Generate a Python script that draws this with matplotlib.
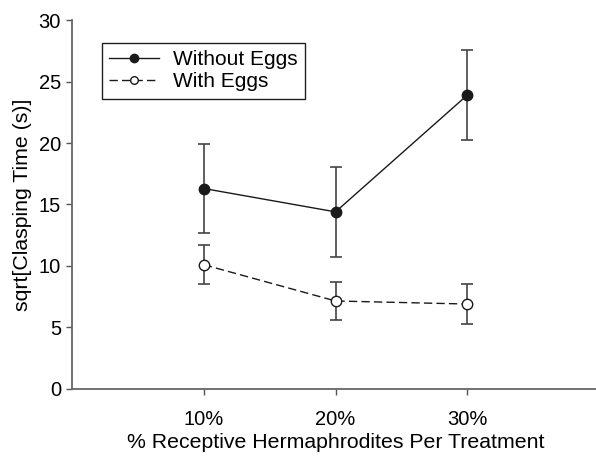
import matplotlib
matplotlib.use("Agg")
import matplotlib.pyplot as plt
from matplotlib.lines import Line2D

plt.rcParams['font.family'] = ['Liberation Sans', 'DejaVu Sans']

# Dados
categorias = ["10%", "20%", "30%"]
sem_ovos = [16.3, 14.4, 23.9]
sem_ovos_erro = [3.65, 3.65, 3.65]
com_ovos = [10.1, 7.15, 6.9]
com_ovos_erro = [1.6, 1.55, 1.6]

x = list(range(1, len(categorias) + 1))

fig = plt.figure(figsize=(5.96, 4.58), dpi=100)
ax = fig.add_axes([0.121, 0.151, 0.884, 0.805])

ax.errorbar(x, sem_ovos, yerr=sem_ovos_erro, color="#1a1a1a", ecolor="#444444",
            marker="o", markersize=7.5, markerfacecolor="#1a1a1a", markeredgecolor="#1a1a1a",
            linewidth=1.0, elinewidth=1.2, capsize=4, capthick=1.2)
ax.errorbar(x, com_ovos, yerr=com_ovos_erro, color="#1a1a1a", ecolor="#444444",
            marker="o", markersize=7.5, markerfacecolor="white", markeredgecolor="#1a1a1a",
            linewidth=1.0, linestyle=(0, (6, 3)), elinewidth=1.2, capsize=4, capthick=1.2)

ax.set_xlim(0, 4)
ax.set_ylim(0, 30)
ax.set_yticks([0, 5, 10, 15, 20, 25, 30])
ax.set_xticks(x)
ax.set_xticklabels(categorias)
ax.tick_params(axis="both", labelsize=14.5, length=4, width=1, color="#555555", direction="out")
ax.tick_params(axis="x", pad=11)
ax.tick_params(axis="y", pad=4)

for lado in ["top", "right"]:
    ax.spines[lado].set_visible(False)
for lado in ["left", "bottom"]:
    ax.spines[lado].set_color("#666666")
    ax.spines[lado].set_linewidth(1.3)

ax.set_xlabel("% Receptive Hermaphrodites Per Treatment", fontsize=15.3, labelpad=3)
ax.set_ylabel("sqrt[Clasping Time (s)]", fontsize=15.3, labelpad=5)

# legenda sem as barras de erro
alcas = [
    Line2D([], [], color="#1a1a1a", lw=1.0, marker="o", markersize=6,
           markerfacecolor="#1a1a1a", markeredgecolor="#1a1a1a"),
    Line2D([], [], color="#1a1a1a", lw=1.0, linestyle=(0, (6, 3)), marker="o", markersize=5.5,
           markerfacecolor="white", markeredgecolor="#1a1a1a"),
]
leg = ax.legend(alcas, ["Without Eggs", "With Eggs"], loc="upper left",
                bbox_to_anchor=(0.057, 0.938), borderaxespad=0,
                fontsize=15, fancybox=False, framealpha=1, edgecolor="#222222",
                handlelength=2.4, borderpad=0.35, labelspacing=0.15, handletextpad=0.65)
leg.get_frame().set_linewidth(1.0)

fig.savefig("out.png", dpi=100)
